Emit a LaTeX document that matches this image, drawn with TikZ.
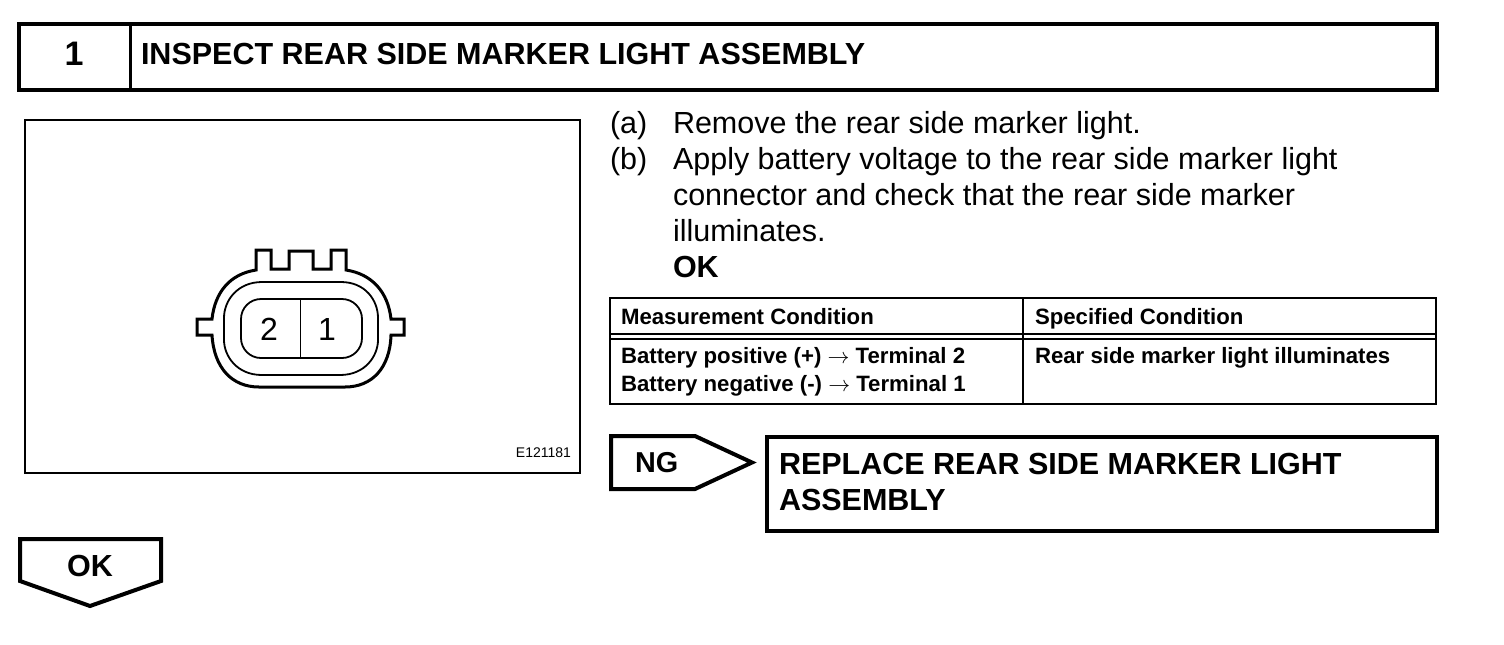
\documentclass[tikz,border=0pt]{standalone}
\usepackage{fontspec}
\setmainfont{Liberation Sans}
\tikzset{
  x=0.5pt,y=-0.5pt,
  heavy/.style={draw=black,line width=2pt,line join=miter},
  medium/.style={draw=black,line width=1.25pt},
  txt/.style={anchor=base west,inner sep=0pt,outer sep=0pt,text=black},
  body/.style={txt,font=\fontsize{15.25}{15.25}\selectfont},
  tbl/.style={txt,font=\fontsize{11.1}{11.1}\selectfont\bfseries},
  bodybold/.style={txt,font=\fontsize{15.25}{15.25}\selectfont\bfseries},
  head/.style={txt,font=\fontsize{15.25}{15.25}\selectfont\bfseries},
}
\begin{document}
\begin{tikzpicture}
\useasboundingbox (0,0) rectangle (1504,644);
% header
\draw[heavy] (19,24) rectangle (1437,90);
\draw[line width=1.5pt] (130,24) -- (130,90);
\node[txt,font=\fontsize{17}{17}\selectfont\bfseries,anchor=base] (num) at (74,65) {1};
\node[head] (title) at (141,64) {INSPECT REAR SIDE MARKER LIGHT ASSEMBLY};
% illustration frame
\draw[medium] (25,120) rectangle (580,473);
\node[txt,font=\fontsize{7}{7}\selectfont,anchor=base east] (code) at (571,457) {E121181};
% connector outer
\draw[line width=1.5pt,line join=miter]
  (256,270) -- (256,250) -- (271,250) -- (271,269) -- (289,269) -- (289,251) -- (313,251) -- (313,269) -- (331,269) -- (331,250) -- (346,250) -- (346,270)
  .. controls (372,274) and (388,292) .. (391,319) -- (404,319) -- (404,335) -- (391,335)
  .. controls (390,368) and (372,387) .. (345,387) -- (259,387)
  .. controls (232,387) and (214,368) .. (212,335) -- (197,335) -- (197,319) -- (212,319)
  .. controls (215,292) and (230,274) .. (256,270) -- cycle;
% connector middle
\draw[line width=0.9pt]
  (262,282) -- (341,282) .. controls (365,282) and (378,300) .. (378,318) -- (378,340)
  .. controls (378,355) and (366,375) .. (340,375) -- (262,375)
  .. controls (236,375) and (224,355) .. (224,340) -- (224,318)
  .. controls (224,300) and (238,282) .. (262,282) -- cycle;
% connector inner
\draw[line width=0.9pt,rounded corners=10pt] (241,299) rectangle (362,358);
\draw[line width=0.5pt] (300,299) -- (300,358);
\node[txt,font=\fontsize{16}{16}\selectfont,anchor=base] (two) at (269,340) {2};
\node[txt,font=\fontsize{16}{16}\selectfont,anchor=base] (one) at (327,340) {1};
% instructions
\node[body] (a) at (610,133) {(a)};
\node[body] (atext) at (673,133) {Remove the rear side marker light.};
\node[body] (b) at (610,169) {(b)};
\node[body] (btext1) at (673,169) {Apply battery voltage to the rear side marker light};
\node[body] (btext2) at (673,205) {connector and check that the rear side marker};
\node[body] (btext3) at (673,241) {illuminates.};
\node[bodybold] (okline) at (673,277) {OK};
% table
\draw[medium] (610,298) rectangle (1436,404);
\draw[medium] (610,334) -- (1436,334);
\draw[medium] (610,339) -- (1436,339);
\draw[medium] (1023,298) -- (1023,404);
\node[tbl] (th1) at (621,324) {Measurement Condition};
\node[tbl] (th2) at (1035,324) {Specified Condition};
\node[tbl] (td1) at (621,363) {Battery positive (+) $\rightarrow$ Terminal 2};
\node[tbl] (td2) at (621,391) {Battery negative (-) $\rightarrow$ Terminal 1};
\node[tbl] (td3) at (1035,363) {Rear side marker light illuminates};
% NG arrow
\draw[heavy] (611,436) -- (695,436) -- (752,462.5) -- (695,489) -- (611,489) -- cycle;
\node[txt,font=\fontsize{14.4}{14.4}\selectfont\bfseries] (ng) at (635,472) {NG};
% result box
\draw[heavy] (767,437) rectangle (1437,531);
\node[head] (r1) at (779,474) {REPLACE REAR SIDE MARKER LIGHT};
\node[head] (r2) at (779,510) {ASSEMBLY};
% OK arrow
\draw[heavy] (20,539) -- (161,539) -- (161,581) -- (90,606) -- (20,581) -- cycle;
\node[txt,font=\fontsize{15.25}{15.25}\selectfont\bfseries,anchor=base] (ok) at (90,576) {OK};
\end{tikzpicture}
\end{document}
